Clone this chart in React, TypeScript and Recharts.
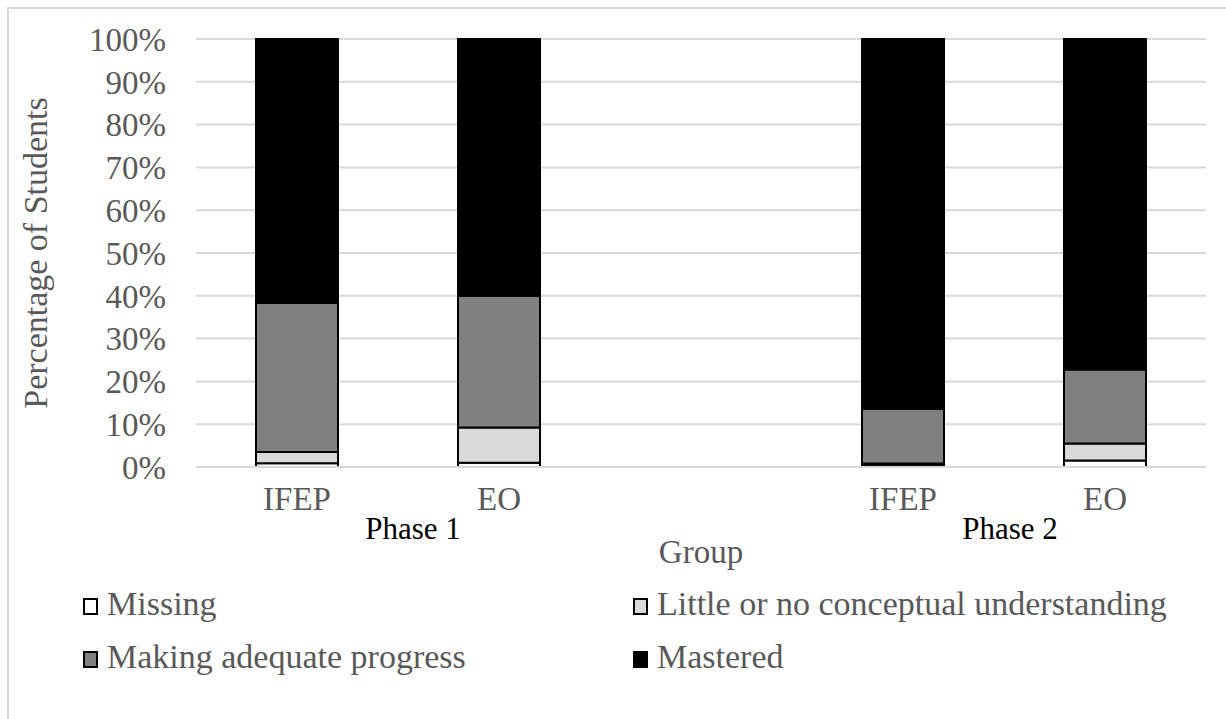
import React from 'react';
import { BarChart, Bar, XAxis, YAxis, CartesianGrid } from 'recharts';

const groups = ['IFEP', 'EO', '', 'IFEP', 'EO'];
const phases = ['Phase 1', '', '', 'Phase 2', ''];
const missing = [0.9, 1.0, null, 0.5, 1.5];
const little = [2.6, 8.2, null, 0.3, 4.0];
const making = [34.8, 30.8, null, 12.8, 17.3];
const mastered = [61.7, 60.0, null, 86.4, 77.2];
const yTicks = [0, 10, 20, 30, 40, 50, 60, 70, 80, 90, 100];

const SERIES = [
  { key: 'missing', name: 'Missing', color: '#FFFFFF' },
  { key: 'little', name: 'Little or no conceptual understanding', color: '#D9D9D9' },
  { key: 'making', name: 'Making adequate progress', color: '#808080' },
  { key: 'mastered', name: 'Mastered', color: '#000000' },
];

const data = groups.map((g, i) => ({
  id: `c${i}`,
  group: g,
  phase: phases[i],
  missing: missing[i],
  little: little[i],
  making: making[i],
  mastered: mastered[i],
}));

const SERIF = '"Liberation Serif", "Times New Roman", serif';
const GREY = '#595959';

const GroupTick = (props: any) => {
  const { x, y, index } = props;
  const row = data[index];
  // phase label sits between its two group ticks (slightly off-centre like the original)
  const shift = index === 0 ? 116 : 107;
  return (
    <g>
      <text x={x} y={y} dy="0.71em" textAnchor="middle" fill={GREY} fontSize={33} fontFamily={SERIF}>
        {row.group}
      </text>
      {row.phase && (
        <text x={x + shift} y={y + 52} textAnchor="middle" fill="#000" fontSize={31} fontFamily={SERIF}>
          {row.phase}
        </text>
      )}
    </g>
  );
};

const LegendBox = () => (
  <div
    style={{
      position: 'absolute',
      left: 83,
      top: 584,
      display: 'grid',
      gridTemplateColumns: '550px 580px',
      rowGap: 13,
      fontFamily: SERIF,
      fontSize: 34,
      color: GREY,
    }}
  >
    {SERIES.map((s) => (
      <div key={s.key} style={{ display: 'flex', alignItems: 'center', height: 40, whiteSpace: 'nowrap' }}>
        <span
          style={{
            display: 'inline-block',
            width: 11,
            height: 13,
            background: s.color,
            border: '2px solid #000',
            marginRight: 9,
            marginTop: 4,
          }}
        />
        <span>{s.name}</span>
      </div>
    ))}
  </div>
);

export default function App() {
  return (
    <div style={{ position: 'absolute', left: 0, top: 0, width: 1226, height: 719, background: '#fff', overflow: 'hidden' }}>
      <div
        style={{
          position: 'absolute',
          left: 7,
          top: 7,
          width: 1240,
          height: 740,
          border: '2px solid #D9D9D9',
          boxSizing: 'border-box',
        }}
      />
      <div style={{ position: 'absolute', left: 0, top: 0 }}>
        <BarChart
          width={1226}
          height={719}
          data={data}
          margin={{ top: 39, right: 20, bottom: 152, left: 0 }}
          barSize={82}
        >
          <CartesianGrid vertical={false} stroke="#D9D9D9" strokeWidth={2} />
          <XAxis
            dataKey="id"
            tick={<GroupTick />}
            tickLine={false}
            axisLine={{ stroke: '#D9D9D9', strokeWidth: 2 }}
            tickSize={0}
            tickMargin={20}
            interval={0}
            height={100}
            label={{ value: 'Group', position: 'insideBottom', offset: 4, fill: GREY, fontSize: 33, fontFamily: SERIF }}
          />
          <YAxis
            domain={[0, 100]}
            ticks={yTicks}
            interval={0}
            tickFormatter={(v: number) => `${v}%`}
            tick={{ fill: GREY, fontSize: 33, fontFamily: SERIF }}
            tickLine={false}
            axisLine={false}
            tickSize={0}
            tickMargin={30}
            width={196}
            label={{
              value: 'Percentage of Students',
              angle: -90,
              position: 'insideLeft',
              offset: 35,
              fill: GREY,
              fontSize: 34,
              fontFamily: SERIF,
              style: { textAnchor: 'middle' },
            }}
          />
          {SERIES.map((s) => (
            <Bar
              key={s.key}
              dataKey={s.key}
              name={s.name}
              stackId="a"
              fill={s.color}
              stroke="#000"
              strokeWidth={2}
              isAnimationActive={false}
            />
          ))}
        </BarChart>
      </div>
      <LegendBox />
    </div>
  );
}
